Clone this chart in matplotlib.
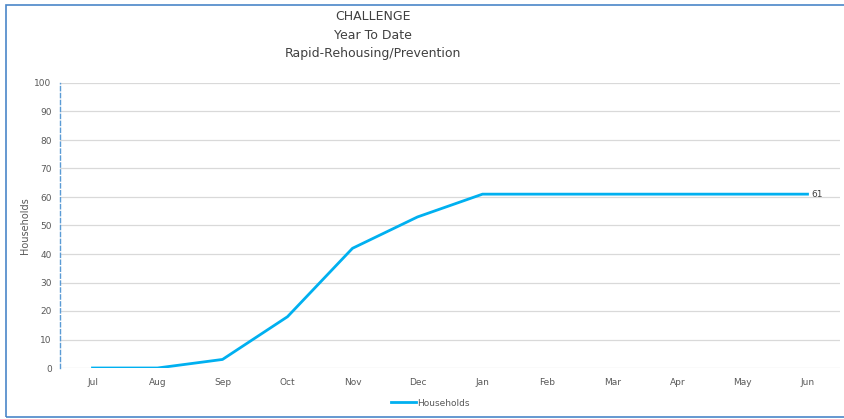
import numpy as np
import matplotlib
matplotlib.use("Agg")
from matplotlib import pyplot as plt
from matplotlib.patches import Rectangle

months = ["Jul", "Aug", "Sep", "Oct", "Nov", "Dec", "Jan", "Feb", "Mar", "Apr", "May", "Jun"]
households = [0, 0, 3, 18, 42, 53, 61, 61, 61, 61, 61, 61]
yticks = [0, 10, 20, 30, 40, 50, 60, 70, 80, 90, 100]
title_lines = ["CHALLENGE", "Year To Date", "Rapid-Rehousing/Prevention"]

plt.rcParams['font.family'] = ['Liberation Sans Narrow', 'DejaVu Sans']

fig = plt.figure(figsize=(8.44, 4.19), dpi=100)
ax = fig.add_axes([60/844, 51/419, 780/844, 285/419])

x = np.arange(len(months))
ax.plot(x, households, color='#00b0f0', lw=2.0, solid_joinstyle='round', label='Households')
ax.annotate(str(households[-1]), (x[-1], households[-1]), xytext=(3, 0),
            textcoords='offset points', va='center', ha='left', fontsize=6.5, color='#404040')

ax.set_xlim(-0.5, len(months) - 0.5)
ax.set_ylim(0, 100)
ax.set_xticks(x)
ax.set_xticklabels(months)
ax.set_yticks(yticks)
ax.tick_params(axis='both', length=0, labelsize=6.5, labelcolor='#595959')
ax.tick_params(axis='x', pad=7)
ax.tick_params(axis='y', pad=6)
ax.grid(axis='y', color='#d9d9d9', lw=0.9)
ax.set_axisbelow(True)
for s in ['top', 'right', 'bottom']:
    ax.spines[s].set_visible(False)
ax.spines['left'].set_linestyle((0, (3, 2)))
ax.spines['left'].set_color('#5b9bd5')
ax.spines['left'].set_linewidth(1.0)
ax.set_ylabel('Households', fontsize=7, color='#595959')
ax.yaxis.set_label_coords(-30/780, 0.5)

for i, t in enumerate(title_lines):
    fig.text(373/844, 1 - (17 + i*18.5)/419, t, ha='center', va='center', fontsize=9, color='#404040')

leg = ax.legend(loc='center', bbox_to_anchor=(430/844, 1 - 403/419), bbox_transform=fig.transFigure,
                frameon=False, fontsize=6.5, handlelength=2.8, handletextpad=0.1)
for t in leg.get_texts():
    t.set_color('#595959')

fig.patches.append(Rectangle((6/844, 2/419), 1.0, 412/419, transform=fig.transFigure,
                             fill=False, edgecolor='#4a86c8', lw=1.2))

fig.savefig('out.png', dpi=100)
